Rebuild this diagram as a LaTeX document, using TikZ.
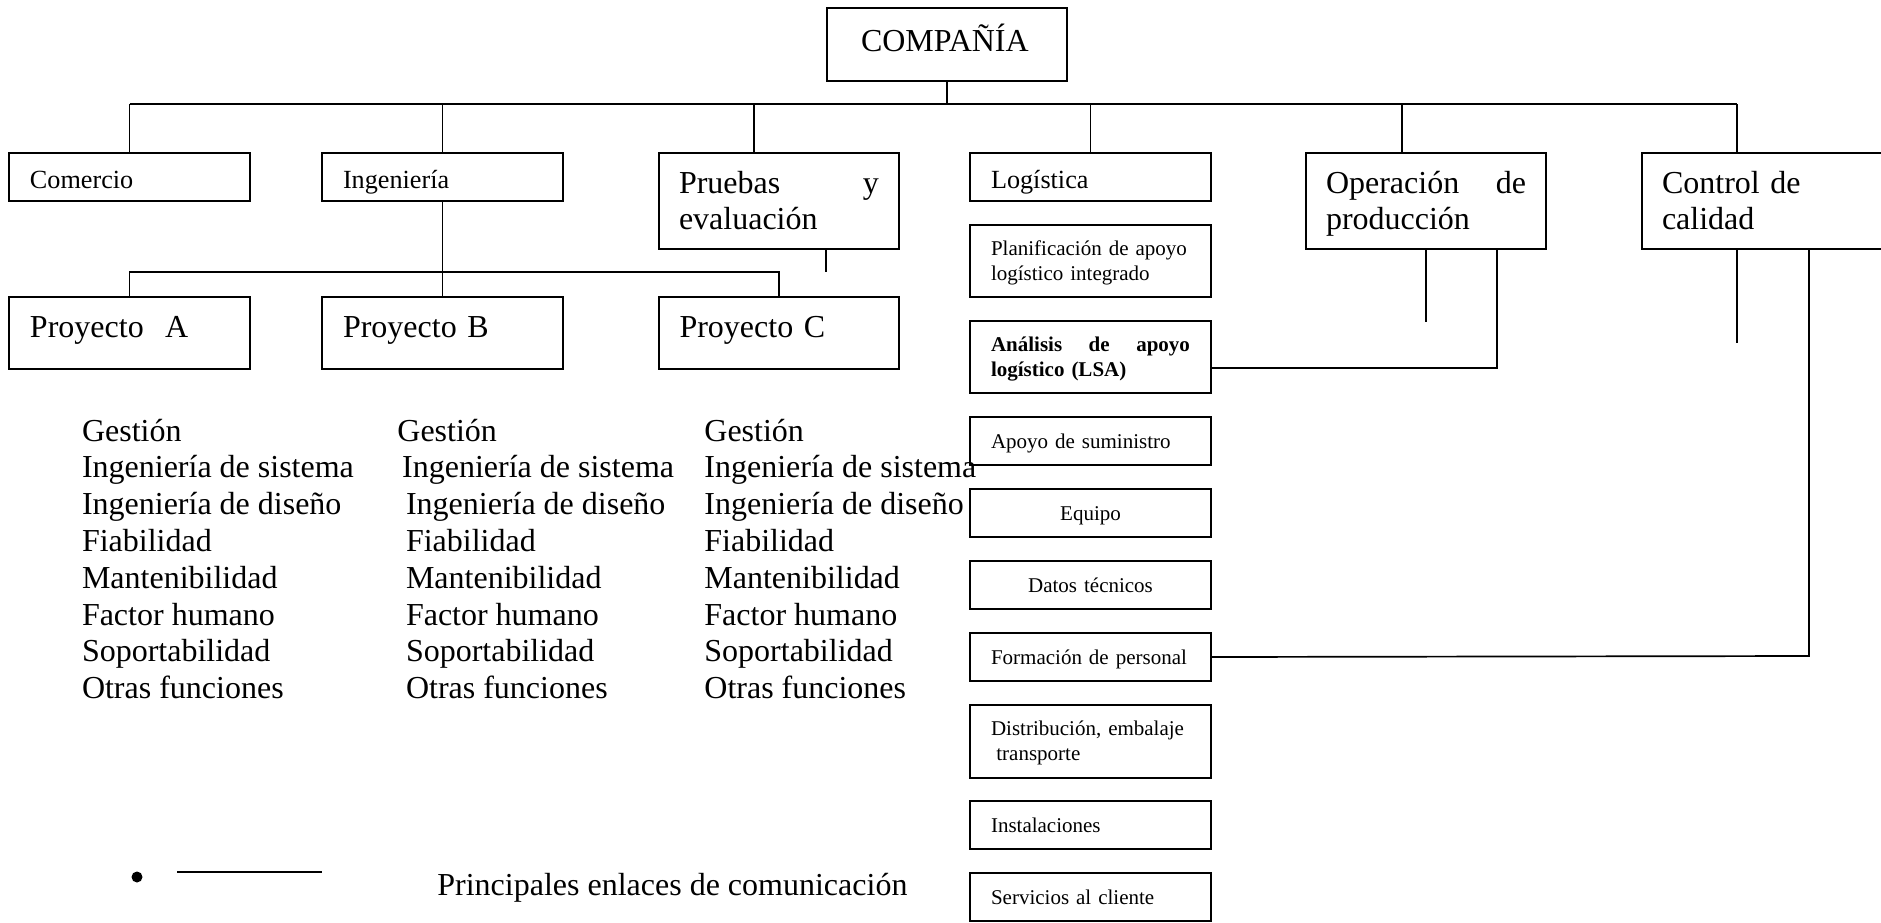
\documentclass[tikz,border=0pt]{standalone}
\usepackage{fontspec}
\setmainfont{Liberation Serif}
\newcommand\bigf{\fontsize{16}{18.4}\selectfont}
\newcommand\midf{\fontsize{13.1}{15}\selectfont}
\newcommand\smallf{\fontsize{10.5}{12.5}\selectfont}
\newcommand\linestack[1]{\vtop{\baselineskip=18.4pt\lineskiplimit=-100pt\lineskip=0pt #1}}
\begin{document}
\begin{tikzpicture}[x=0.5pt,y=-0.5pt,
  box/.style={draw, line width=1pt, inner sep=0pt, anchor=north west},
  sbox/.style={box, font=\smallf, minimum width=120.5pt, text width=99.5pt, align=left},
  toprow/.style={sbox, font=\midf, minimum height=24pt, text height=15pt, text depth=4pt},
  bigbox/.style={box, font=\bigf, minimum width=120pt, minimum height=48pt, text width=100pt, align=left, text height=12pt, text depth=20pt},
  proybox/.style={box, font=\bigf, minimum width=120.5pt, minimum height=36pt, text width=99.5pt, align=left, text height=14pt, text depth=9.3pt},
  twoline/.style={sbox, minimum height=36pt, text height=10pt, text depth=16pt},
  oneline/.style={sbox, minimum height=24pt, text height=14pt, text depth=7pt},
  conn/.style={line width=0.85pt},
  coltext/.style={anchor=base west, inner sep=0pt, font=\bigf}]
\useasboundingbox (0,0) rectangle (1881,922);

% top
\node[box, font=\bigf, minimum width=120pt, minimum height=36.5pt, text width=86pt, align=left, text height=13pt, text depth=6.5pt] (comp) at (826,7) {COMPAÑÍA};

% second row
\node[toprow] (com) at (8,152) {Comercio};
\node[toprow] (ing) at (321,152) {Ingeniería};
\node[bigbox] (pru) at (658,152) {Pruebas\hfill y\\evaluación};
\node[toprow] (log) at (969,152) {Logística};
\node[bigbox] (ope) at (1305,152) {Operación\hfill de\\producción};
\node[bigbox, minimum width=130pt, text width=110pt] (con) at (1641,152) {Control de\\calidad};

% projects
\node[proybox] (pa) at (8,296) {Proyecto\ \ A};
\node[proybox] (pb) at (321,296) {Proyecto B};
\node[proybox, minimum width=120pt] (pc) at (658,296) {Proyecto C};

% logistics column
\node[twoline] (plan) at (969,224) {\mbox{Planificación de apoyo}\\\mbox{logístico integrado}};
\node[twoline, font=\smallf\bfseries] (lsa) at (969,320) {Análisis\hfill de\hfill apoyo\\\mbox{logístico (LSA)}};
\node[oneline] (apo) at (969,416) {\mbox{Apoyo de suministro}};
\node[oneline, align=center] (equ) at (969,488) {Equipo};
\node[oneline, align=center] (dat) at (969,560) {\mbox{Datos técnicos}};
\node[oneline] (fpers) at (969,632) {\mbox{Formación de personal}};
\node[twoline, minimum height=36.5pt] (dis) at (969,704) {\mbox{Distribución, embalaje}\\\mbox{\hspace*{2.7pt}transporte}};
\node[oneline] (ins) at (969,800) {Instalaciones};
\node[oneline] (ser) at (969,872) {\mbox{Servicios al cliente}};

% bus
\coordinate (bus) at (0,104);
\coordinate (dP) at (754,104);
\coordinate (dO) at (1402,104);
\coordinate (dC) at (1737,104);
\draw[conn] (comp.south) -- (comp.south |- bus);
\draw[conn] (com.north |- bus) -- (dC);
\draw[conn] (com.north |- bus) -- (com.north);
\draw[conn] (ing.north |- bus) -- (ing.north);
\draw[conn] (dP) -- (dP |- pru.north);
\draw[conn] (log.north |- bus) -- (log.north);
\draw[conn] (dO) -- (dO |- ope.north);
\draw[conn] (dC) -- (dC |- con.north);

% engineering to projects
\draw[conn] (ing.south) -- (pb.north);
\draw[conn] (pa.north) -- ++(0,-24) -| (pc.north);

% stubs
\coordinate (pS) at (826,272);
\draw[conn] (pS |- pru.south) -- (pS);
\draw[conn] (ope.south) -- ++(0,72);
\coordinate (oL) at (1497,368);
\draw[conn] (oL |- ope.south) -- (oL) -- (oL -| lsa.east);
\coordinate (cS) at (1737,343);
\draw[conn] (cS |- con.south) -- (cS);
\coordinate (cF) at (1809,656);
\draw[conn] (cF |- con.south) -- (cF) -- (fpers.east);

% function lists
\node[coltext] (colA) at (81.6,441) {\linestack{\hbox{Gestión}\hbox{Ingeniería de sistema}\hbox{Ingeniería de diseño}\hbox{Fiabilidad}\hbox{Mantenibilidad}\hbox{Factor humano}\hbox{Soportabilidad}\hbox{Otras funciones}}};
\node[coltext] (colB) at (397,441) {\linestack{\hbox{Gestión}\hbox{\hspace*{2.4pt}Ingeniería de sistema}\hbox{\hspace*{4.3pt}Ingeniería de diseño}\hbox{\hspace*{4.3pt}Fiabilidad}\hbox{\hspace*{4.3pt}Mantenibilidad}\hbox{\hspace*{4.3pt}Factor humano}\hbox{\hspace*{4.3pt}Soportabilidad}\hbox{\hspace*{4.3pt}Otras funciones}}};
\node[coltext] (colC) at (704,441) {\linestack{\hbox{Gestión}\hbox{Ingeniería de sistema}\hbox{Ingeniería de diseño}\hbox{Fiabilidad}\hbox{Mantenibilidad}\hbox{Factor humano}\hbox{Soportabilidad}\hbox{Otras funciones}}};

% legend
\node[circle, fill, inner sep=0pt, minimum size=5.5pt] (bul) at (137,877) {};
\coordinate (lg1) at (177,872);
\coordinate (lg2) at (322,872);
\draw[line width=1pt] (lg1) -- (lg2);
\node[coltext] (legt) at (437,895) {Principales enlaces de comunicación};
\end{tikzpicture}
\end{document}
